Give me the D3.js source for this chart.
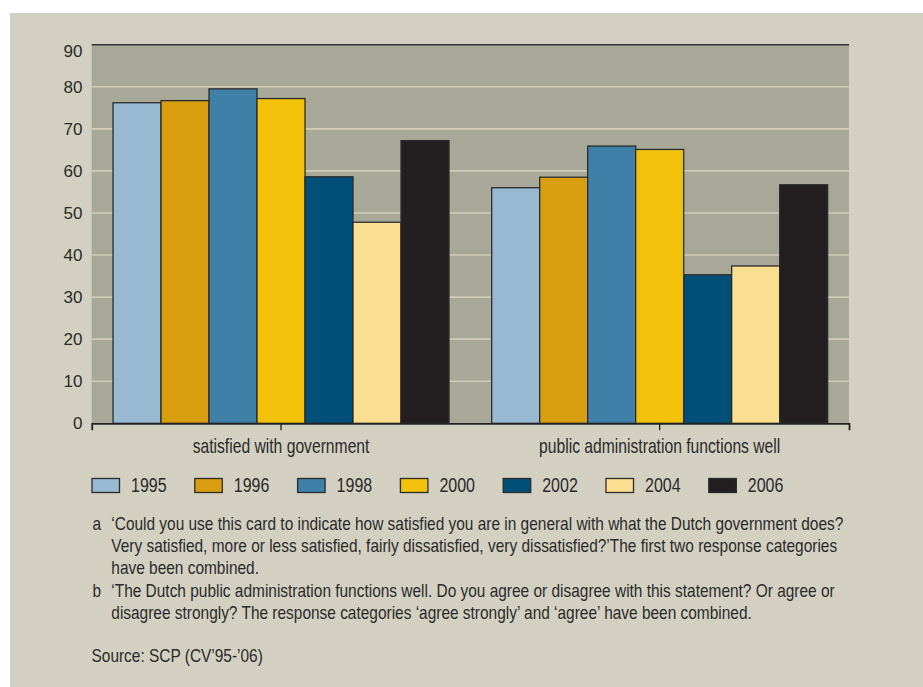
<!DOCTYPE html>
<html>
<head>
<meta charset="utf-8">
<script src="https://cdn.jsdelivr.net/npm/d3@7"></script>
<style>
  html, body { margin: 0; padding: 0; background: #fff; }
  svg { display: block; }
</style>
</head>
<body>
<div id="container"></div>
<script>
// data
const categories = ['satisfied with government', 'public administration functions well'];
const years = ['1995', '1996', '1998', '2000', '2002', '2004', '2006'];
const satisfiedValues = [76.2, 76.7, 79.5, 77.2, 58.6, 47.8, 67.2];
const publicAdminValues = [56.0, 58.5, 65.9, 65.1, 35.3, 37.4, 56.7];
const yTicks = [0, 10, 20, 30, 40, 50, 60, 70, 80, 90];
const yearColors = ['#97b9d1', '#d99e10', '#3f80a8', '#f2c10a', '#004f79', '#f9df8f', '#231f20'];
const notes = [
    ['a', '\u2018Could you use this card to indicate how satisfied you are in general with what the Dutch government does?'],
    ['', 'Very satisfied, more or less satisfied, fairly dissatisfied, very dissatisfied?\u2019The first two response categories'],
    ['', 'have been combined.'],
    ['b', '\u2018The Dutch public administration functions well. Do you agree or disagree with this statement? Or agree or'],
    ['', 'disagree strongly? The response categories \u2018agree strongly\u2019 and \u2018agree\u2019 have been combined.']
];
const sourceText = 'Source: SCP (CV\u201995-\u201906)';

const width = 923;
const height = 687;
const plot = { left: 91.7, right: 849, top: 44.7, bottom: 423.3 };
const font = '"Liberation Sans", Arial, sans-serif';
const textColor = '#2a2a2a';
// the original uses a condensed face; squeeze a regular one horizontally
const squeeze = 0.8;
const noteSqueeze = 0.835;

const rows = categories.map((c, i) => ({
    category: c,
    values: (i === 0 ? satisfiedValues : publicAdminValues).map((v, j) => ({ year: years[j], value: v }))
}));

const svg = d3.select('#container').append('svg')
    .attr('width', width)
    .attr('height', height)
    .attr('font-family', font);

// beige panel
svg.append('rect')
    .attr('x', 10).attr('y', 13)
    .attr('width', width - 10).attr('height', height - 13)
    .attr('fill', '#d3d0c2');

const x0 = d3.scaleBand()
    .domain(categories)
    .range([plot.left, plot.right])
    .paddingInner(0.1127)
    .paddingOuter(0.05635);

const x1 = d3.scaleBand()
    .domain(years)
    .range([0, x0.bandwidth()]);

const y = d3.scaleLinear()
    .domain([0, 90])
    .range([plot.bottom, plot.top]);

const color = d3.scaleOrdinal().domain(years).range(yearColors);

function narrowText(parent, x, yy, str, size, anchor, sx) {
    return parent.append('text')
        .attr('transform', `translate(${x},${yy}) scale(${sx || squeeze},1)`)
        .attr('font-size', size)
        .attr('text-anchor', anchor || 'start')
        .attr('fill', textColor)
        .text(str);
}

// plot background
svg.append('rect')
    .attr('x', plot.left).attr('y', plot.top)
    .attr('width', plot.right - plot.left)
    .attr('height', plot.bottom - plot.top)
    .attr('fill', '#a7a897');

// gridlines
svg.append('g')
    .selectAll('line')
    .data(yTicks.filter(t => t > 0 && t < 90))
    .enter()
    .append('line')
    .attr('x1', plot.left).attr('x2', plot.right)
    .attr('y1', d => y(d)).attr('y2', d => y(d))
    .attr('stroke', '#d0ccb9')
    .attr('stroke-width', 1.6);

// top frame line
svg.append('line')
    .attr('x1', plot.left).attr('x2', plot.right)
    .attr('y1', y(90)).attr('y2', y(90))
    .attr('stroke', '#333')
    .attr('stroke-width', 1.5);

// bars
svg.append('g')
    .selectAll('g')
    .data(rows)
    .enter()
    .append('g')
    .attr('transform', d => `translate(${x0(d.category)},0)`)
    .selectAll('rect')
    .data(d => d.values)
    .enter()
    .append('rect')
    .attr('x', d => x1(d.year))
    .attr('y', d => y(d.value))
    .attr('width', x1.bandwidth())
    .attr('height', d => y(0) - y(d.value))
    .attr('fill', d => color(d.year))
    .attr('stroke', '#2b2b2b')
    .attr('stroke-width', 1.3);

// y axis labels
svg.append('g')
    .selectAll('text')
    .data(yTicks)
    .enter()
    .append('text')
    .attr('x', 82.5)
    .attr('y', d => y(d) + (d === 90 ? 6 : 0))
    .attr('dy', '0.35em')
    .attr('text-anchor', 'end')
    .attr('font-size', 17)
    .attr('fill', textColor)
    .text(d => d);

// x axis
const xAxis = d3.axisBottom(x0).tickSize(7).tickFormat('');
const gx = svg.append('g')
    .attr('transform', `translate(0,${plot.bottom})`)
    .call(xAxis);
gx.select('.domain')
    .attr('stroke', '#222')
    .attr('stroke-width', 1.8);
gx.selectAll('.tick line').attr('stroke', '#222').attr('stroke-width', 1.3);
categories.forEach(c => {
    narrowText(svg, x0(c) + x0.bandwidth() / 2, 452.5, c, 19.6, 'middle');
});

// legend
const legend = svg.append('g')
    .selectAll('g')
    .data(years)
    .enter()
    .append('g')
    .attr('transform', (d, i) => `translate(${92 + i * 102.8},478.5)`);
legend.append('rect')
    .attr('width', 27.5).attr('height', 14)
    .attr('fill', d => color(d))
    .attr('stroke', '#2b2b2b')
    .attr('stroke-width', 1.3);
legend.each(function (d) {
    narrowText(d3.select(this), 39, 13.3, d, 20);
});

// footnotes
const noteG = svg.append('g');
notes.forEach((n, i) => {
    const by = 530 + i * 22.2;
    if (n[0]) narrowText(noteG, 92.4, by, n[0], 18.5, 'start', noteSqueeze);
    narrowText(noteG, 111.3, by, n[1], 18.5, 'start', noteSqueeze);
});
narrowText(noteG, 91.5, 661.5, sourceText, 18.5, 'start', noteSqueeze);
</script>
</body>
</html>
